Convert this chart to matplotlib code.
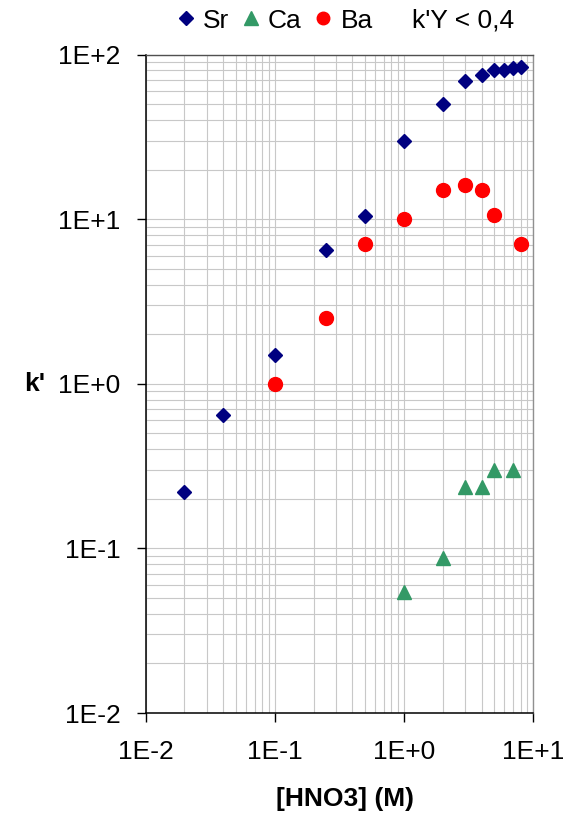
import matplotlib
matplotlib.use("Agg")
import matplotlib.pyplot as plt
from matplotlib.lines import Line2D
from matplotlib.ticker import LogLocator, NullFormatter

plt.rcParams['font.family'] = ['Liberation Sans', 'DejaVu Sans']

# HNO3 concentration (M) and capacity factors k'
sr_hno3 = [0.02, 0.04, 0.1, 0.25, 0.5, 1.0, 2.0, 3.0, 4.0, 5.0, 6.0, 7.0, 8.0]
sr_k = [0.22, 0.65, 1.5, 6.45, 10.5, 30, 50, 69, 75, 80, 81, 83, 84]

ca_hno3 = [1.0, 2.0, 3.0, 4.0, 5.0, 7.0]
ca_k = [0.054, 0.087, 0.236, 0.236, 0.30, 0.30]

ba_hno3 = [0.1, 0.25, 0.5, 1.0, 2.0, 3.0, 4.0, 5.0, 8.0]
ba_k = [1.0, 2.5, 7.05, 10, 15, 16.2, 15, 10.6, 7.1]

x_ticks = [0.01, 0.1, 1, 10]
x_tick_labels = ["1E-2", "1E-1", "1E+0", "1E+1"]
y_ticks = [0.01, 0.1, 1, 10, 100]
y_tick_labels = ["1E-2", "1E-1", "1E+0", "1E+1", "1E+2"]

navy = '#000080'
green = '#339966'
red = '#FF0000'
fs = 19

fig = plt.figure(figsize=(5.79, 8.21), dpi=100)
ax = fig.add_axes([0.2513, 0.1315, 0.6693, 0.8021])

ax.set_xscale('log')
ax.set_yscale('log')
ax.set_xlim(0.01, 10)
ax.set_ylim(0.01, 100)

ax.plot(sr_hno3, sr_k, linestyle='none', marker='D', markersize=7.6,
        color=navy, label='Sr', zorder=3)
ax.plot(ca_hno3, ca_k, linestyle='none', marker='^', markersize=10.5,
        color=green, label='Ca', zorder=3)
ax.plot(ba_hno3, ba_k, linestyle='none', marker='o', markersize=10,
        color=red, label='Ba', zorder=3)

# grid on every decade subdivision
ax.xaxis.set_minor_locator(LogLocator(base=10, subs=range(2, 10)))
ax.yaxis.set_minor_locator(LogLocator(base=10, subs=range(2, 10)))
ax.xaxis.set_minor_formatter(NullFormatter())
ax.yaxis.set_minor_formatter(NullFormatter())
ax.grid(True, which='both', color='#c8c8c8', linewidth=0.8, zorder=0)
ax.set_axisbelow(True)

ax.set_xticks(x_ticks)
ax.set_xticklabels(x_tick_labels)
ax.set_yticks(y_ticks)
ax.set_yticklabels(y_tick_labels)
ax.tick_params(which='major', direction='out', length=6.5, width=1,
               color='black', labelsize=fs)
ax.tick_params(axis='x', which='major', pad=13)
ax.tick_params(axis='y', which='major', pad=11.5)
ax.tick_params(which='minor', length=0)

for side in ('left', 'bottom'):
    ax.spines[side].set_color('black')
    ax.spines[side].set_linewidth(1.1)
ax.spines['top'].set_color('#505050')
ax.spines['right'].set_color('#909090')
ax.spines['top'].set_linewidth(1.0)
ax.spines['right'].set_linewidth(1.0)

ax.set_xlabel('[HNO3] (M)', fontsize=fs, fontweight='bold')
ax.xaxis.set_label_coords(0.515, -0.112)
ax.set_ylabel("k'", fontsize=fs, fontweight='bold', rotation=0,
              va='center', ha='center')
ax.yaxis.set_label_coords(-0.285, 0.50)

handles, labels = ax.get_legend_handles_labels()
handles.append(Line2D([], [], linestyle='none', marker=None))
labels.append("k'Y < 0,4")
fig.legend(handles, labels, loc='center', bbox_to_anchor=(0.595, 0.975),
           ncol=4, frameon=False, fontsize=fs, markerscale=0.9,
           handlelength=0.8, handletextpad=0.25, columnspacing=0.42,
           borderpad=0, borderaxespad=0)

fig.savefig('out.png', dpi=100)
